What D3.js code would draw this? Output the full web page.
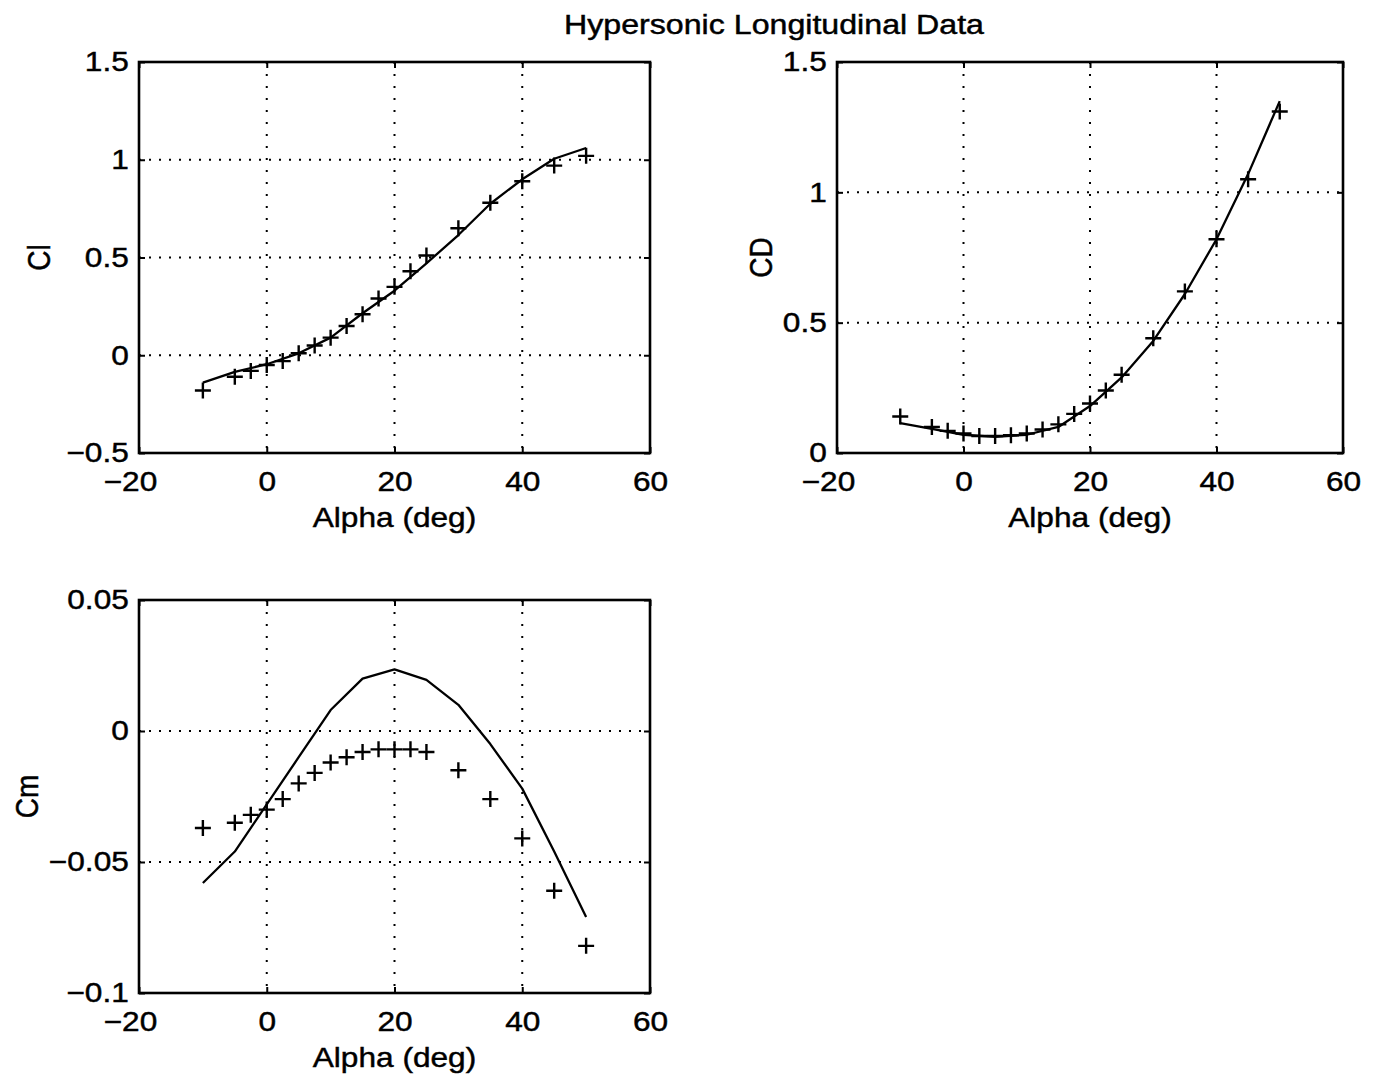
<!DOCTYPE html>
<html><head><meta charset="utf-8">
<script src="https://cdn.jsdelivr.net/npm/d3@7"></script>
<style>
html,body{margin:0;padding:0;background:#fff;}
svg{display:block;}
text{font-family:"Liberation Sans",Arial,Helvetica,sans-serif;fill:#000;stroke:#000;stroke-width:0.45px;}
</style></head><body>
<svg id="chart" width="1380" height="1078"></svg>
<script>
// ---- data ----
const alphaPts = [-10,-5,-2.5,0,2.5,5,7.5,10,12.5,15,17.5,20,22.5,25,30,35,40,45,50];
const clPts = [-0.18,-0.11,-0.08,-0.05,-0.03,0.01,0.05,0.09,0.15,0.21,0.29,0.35,0.43,0.51,0.65,0.78,0.89,0.97,1.02];
const cdPts = [0.14,0.10,0.085,0.075,0.065,0.065,0.068,0.075,0.09,0.11,0.15,0.19,0.24,0.30,0.44,0.62,0.82,1.05,1.31];
const cmPts = [-0.037,-0.035,-0.032,-0.030,-0.026,-0.020,-0.016,-0.012,-0.010,-0.008,-0.007,-0.007,-0.007,-0.008,-0.015,-0.026,-0.041,-0.061,-0.082];

const alphaFit = [-10,-5,0,5,10,15,20,25,30,35,40,45,50];
const clFit = [-0.14,-0.085,-0.046,0.01,0.09,0.215,0.33,0.47,0.615,0.775,0.90,1.005,1.06];
const cdFit = [0.115,0.093,0.07,0.062,0.07,0.10,0.18,0.29,0.43,0.61,0.82,1.07,1.35];
const cmFit = [-0.058,-0.046,-0.028,-0.010,0.008,0.020,0.0235,0.0195,0.010,-0.005,-0.022,-0.046,-0.071];

const xTicks = [-20,0,20,40,60];
const xTickLabels = ["\u221220","0","20","40","60"];
const clTicks = [-0.5,0,0.5,1,1.5];
const clTickLabels = ["\u22120.5","0","0.5","1","1.5"];
const cdTicks = [0,0.5,1,1.5];
const cdTickLabels = ["0","0.5","1","1.5"];
const cmTicks = [-0.1,-0.05,0,0.05];
const cmTickLabels = ["\u22120.1","\u22120.05","0","0.05"];

const titleText = "Hypersonic Longitudinal Data";
const xLabelText = "Alpha (deg)";
const yLabelTexts = ["Cl","CD","Cm"];

// ---- drawing ----
const SX = 1.13;       // horizontal stretch of the original lettering
const FS = 28;
const svg = d3.select("#chart");
svg.append("rect").attr("width",1380).attr("height",1078).attr("fill","#fff");

svg.append("text")
  .attr("x",564).attr("y",34)
  .attr("font-size",27)
  .attr("textLength",420).attr("lengthAdjust","spacingAndGlyphs")
  .text(titleText);

const panels = [
  {ylab:yLabelTexts[0], left:139, right:650, top:62, bottom:453, yTicks:clTicks, yLabels:clTickLabels, pts:clPts, fit:clFit, ylabX:40},
  {ylab:yLabelTexts[1], left:837, right:1343, top:62, bottom:453, yTicks:cdTicks, yLabels:cdTickLabels, pts:cdPts, fit:cdFit, ylabX:762},
  {ylab:yLabelTexts[2], left:139, right:650, top:600, bottom:993, yTicks:cmTicks, yLabels:cmTickLabels, pts:cmPts, fit:cmFit, ylabX:28}
];

panels.forEach(p => {
  const x = d3.scaleLinear().domain([xTicks[0], xTicks[xTicks.length-1]]).range([p.left, p.right]);
  const y = d3.scaleLinear().domain([p.yTicks[0], p.yTicks[p.yTicks.length-1]]).range([p.bottom, p.top]);
  const g = svg.append("g");

  // dotted grid
  g.append("g").selectAll("line").data(xTicks.slice(1,-1)).join("line")
    .attr("x1", d => x(d)).attr("x2", d => x(d))
    .attr("y1", p.top).attr("y2", p.bottom)
    .attr("stroke","#000").attr("stroke-width",2)
    .attr("stroke-dasharray","2,10");
  g.append("g").selectAll("line").data(p.yTicks.slice(1,-1)).join("line")
    .attr("y1", d => y(d)).attr("y2", d => y(d))
    .attr("x1", p.left).attr("x2", p.right)
    .attr("stroke","#000").attr("stroke-width",2)
    .attr("stroke-dasharray","2,8");

  // axes (inward ticks)
  const styleAxis = sel => {
    sel.select(".domain").remove();
    sel.attr("font-size", FS).attr("font-family", null);
    sel.selectAll(".tick line").attr("stroke-width", 2);
  };
  const bx = g.append("g").attr("transform", `translate(0,${p.bottom})`)
    .call(d3.axisBottom(x).tickValues(xTicks).tickFormat((d,i) => xTickLabels[i])
      .tickSize(-6).tickSizeOuter(0).tickPadding(18))
    .call(styleAxis);
  bx.selectAll(".tick text")
    .attr("transform", `scale(${SX},1)`)
    .attr("dx", d => d < 0 ? -8 : 0);
  g.append("g").attr("transform", `translate(0,${p.top})`)
    .call(d3.axisTop(x).tickValues(xTicks).tickFormat("").tickSize(-6).tickSizeOuter(0))
    .call(styleAxis);
  const ly = g.append("g").attr("transform", `translate(${p.left},0)`)
    .call(d3.axisLeft(y).tickValues(p.yTicks).tickFormat((d,i) => p.yLabels[i])
      .tickSize(-6).tickSizeOuter(0).tickPadding(9))
    .call(styleAxis);
  ly.selectAll(".tick text").attr("transform", `scale(${SX},1)`);
  g.append("g").attr("transform", `translate(${p.right},0)`)
    .call(d3.axisRight(y).tickValues(p.yTicks).tickFormat("").tickSize(-6).tickSizeOuter(0))
    .call(styleAxis);

  // frame
  g.append("rect")
    .attr("x", p.left).attr("y", p.top)
    .attr("width", p.right - p.left).attr("height", p.bottom - p.top)
    .attr("fill","none").attr("stroke","#000").attr("stroke-width",2.6);

  // fitted line
  g.append("path")
    .datum(alphaFit.map((a,i) => [a, p.fit[i]]))
    .attr("d", d3.line().x(d => x(d[0])).y(d => y(d[1])))
    .attr("fill","none").attr("stroke","#000").attr("stroke-width",2.3)
    .attr("stroke-linejoin","round");

  // '+' markers
  const h = 8;
  g.append("g").selectAll("path").data(alphaPts.map((a,i) => [a, p.pts[i]])).join("path")
    .attr("d", d => {
      const cx = x(d[0]), cy = y(d[1]);
      return `M${cx-h},${cy}H${cx+h}M${cx},${cy-h}V${cy+h}`;
    })
    .attr("stroke","#000").attr("stroke-width",2.4).attr("fill","none");

  // x label
  const cx = (p.left + p.right) / 2;
  g.append("text")
    .attr("transform", `translate(${cx},${p.bottom + 74}) scale(${SX},1)`)
    .attr("text-anchor","middle").attr("font-size", FS)
    .text(xLabelText);

  // y label
  const cy = (p.top + p.bottom) / 2;
  g.append("text")
    .attr("transform", `translate(${p.ylabX + 10},${cy}) rotate(-90) scale(1,${SX})`)
    .attr("text-anchor","middle").attr("font-size", FS)
    .text(p.ylab);
});
</script>
</body></html>
